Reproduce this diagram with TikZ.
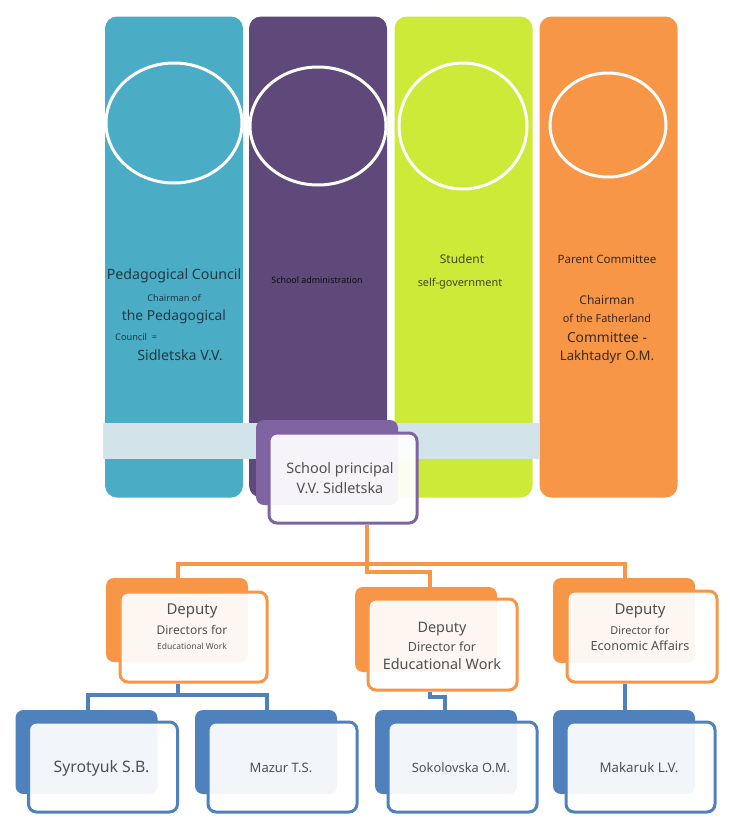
\documentclass[tikz,border=0pt]{standalone}
\usepackage{fontspec}
\setmainfont{Noto Sans}
\usetikzlibrary{shapes.geometric,backgrounds,calc}
\definecolor{colteal}{HTML}{4BACC6}
\definecolor{colpurple}{HTML}{5F497A}
\definecolor{collime}{HTML}{CEEA38}
\definecolor{colorange}{HTML}{F79646}
\definecolor{princpurple}{HTML}{8064A2}
\definecolor{bandblue}{HTML}{D2E3E9}
\definecolor{depblue}{HTML}{4F81BD}
\definecolor{txtgrey}{HTML}{505050}
\definecolor{txtteal}{HTML}{203A44}
\definecolor{txtlime}{HTML}{3F4A1E}
\definecolor{txtorange}{HTML}{3A2A20}
\newcommand{\fsz}[1]{\fontsize{#1}{1.4\dimexpr#1pt\relax}\selectfont}

\begin{document}
\begin{tikzpicture}[x=1pt, y=-1pt,
    column/.style={rectangle, rounded corners=12pt, minimum width=138pt, minimum height=481pt, inner sep=0pt},
    ring/.style={ellipse, draw=white, line width=3pt, inner sep=0pt},
    backbox/.style={rectangle, rounded corners=8pt, minimum width=142pt, minimum height=84pt, inner sep=0pt},
    frontbox/.style={rectangle, rounded corners=8pt, minimum width=148pt, minimum height=90pt, inner sep=0pt,
      fill=white, fill opacity=0.93, line width=3pt},
    lbl/.style={align=center, inner sep=0pt},
    link/.style={line width=3.4pt}]
        \useasboundingbox (0,0) rectangle (732,838);
        % columns with their rings
        \foreach \n/\x/\c in {1/174/colteal, 2/318/colpurple, 3/463.5/collime, 4/608.5/colorange} {
          \node[column, fill=\c] (col\n) at (\x,257) {};
        }
        \node[ring, minimum width=136pt, minimum height=120pt] (ring1) at (174,123) {};
        \node[ring, minimum width=136pt, minimum height=118pt] (ring2) at (318,126) {};
        \node[ring, minimum width=128pt, minimum height=126pt] (ring3) at (463,126) {};
        \node[ring, minimum width=116pt, minimum height=104pt] (ring4) at (608,125) {};
        \fill[bandblue] (103,423) rectangle (540,459);
        % column texts
        \begin{scope}[every node/.style={lbl, text=txtteal}]
          \node[font=\fsz{14.2}] (ped1) at (174,276) {Pedagogical Council};
          \node[font=\fsz{9.2}] (ped2) at (174,298) {Chairman of};
          \node[font=\fsz{13.8}] (ped3) at (174,317) {the Pedagogical};
          \node[font=\fsz{9.2}, anchor=west] (ped4) at (115,337) {Council\ \ =};
          \node[font=\fsz{14.2}] (ped5) at (180,355) {Sidletska V.V.};
        \end{scope}
        \node[lbl, font=\fsz{8.9}, text=black!85!colpurple] (adm1) at (317,280) {School administration};
        \node[lbl, font=\fsz{12}, text=txtlime] (stu1) at (462,259) {Student};
        \node[lbl, font=\fsz{10.9}, text=txtlime] (stu2) at (460,284) {self-government};
        \begin{scope}[every node/.style={lbl, text=txtorange}]
          \node[font=\fsz{11.5}] (par1) at (607,259) {Parent Committee};
          \node[font=\fsz{12}] (par2) at (607,300) {Chairman};
          \node[font=\fsz{10.9}] (par3) at (607,318) {of the Fatherland};
          \node[font=\fsz{13.8}] (par4) at (607,337) {Committee -};
          \node[font=\fsz{13.2}] (par5) at (607,357) {Lakhtadyr O.M.};
        \end{scope}
        % principal
        \node[backbox, fill=princpurple, minimum width=142pt, minimum height=85pt] (princb) at (327,462.5) {};
        \node[frontbox, draw=princpurple, minimum width=148pt, minimum height=90pt] (princ) at (343,478) {};
        \node[lbl, font=\fsz{14.4}, text=txtgrey] (princt) at (340,478) {School principal\\V.V. Sidletska};
        % deputies
        \node[backbox, fill=colorange] (dep1b) at (177,620) {};
        \node[frontbox, draw=colorange, minimum width=147pt] (dep1) at (193.5,637) {};
        \node[backbox, fill=colorange, minimum height=85pt] (dep2b) at (426,629.5) {};
        \node[frontbox, draw=colorange, minimum width=149pt, minimum height=91pt] (dep2) at (442.5,644.5) {};
        \node[backbox, fill=colorange, minimum height=85pt] (dep3b) at (624,620.5) {};
        \node[frontbox, draw=colorange, minimum width=150pt, minimum height=91pt] (dep3) at (642,636.5) {};
        \begin{scope}[every node/.style={lbl, text=txtgrey}]
          \node[font=\fsz{15}] (dep1t1) at (192,611) {Deputy};
          \node[font=\fsz{12}] (dep1t2) at (192,630) {Directors for};
          \node[font=\fsz{8.5}] (dep1t3) at (192,646) {Educational Work};
          \node[font=\fsz{14.4}] (dep2t1) at (442,629) {Deputy};
          \node[font=\fsz{12.6}] (dep2t2) at (442,647) {Director for};
          \node[font=\fsz{14.4}] (dep2t3) at (442,664) {Educational Work};
          \node[font=\fsz{15}] (dep3t1) at (640,611) {Deputy};
          \node[font=\fsz{10.9}] (dep3t2) at (640,630) {Director for};
          \node[font=\fsz{12.6}] (dep3t3) at (640,646) {Economic Affairs};
        \end{scope}
        % staff boxes
        \foreach \n/\x/\t/\s in {1/86.5/Syrotyuk S.B./15.8, 2/266/Mazur T.S./13, 3/446/Sokolovska O.M./12.8, 4/624/Makaruk L.V./13.3} {
          \node[backbox, minimum height=84pt, fill=depblue] (b\n b) at (\x,752) {};
          \node[frontbox, draw=depblue, minimum width=149pt, minimum height=90pt] (b\n) at (\x+16.5,767) {};
          \node[lbl, font=\fsz{\s}, text=txtgrey] (b\n t) at (\x+15,768) {\t};
        }
        % connectors
        \coordinate (trunk) at (367,564);
        \coordinate (jog2) at (430,572);
        \coordinate (bar1) at (178,564);
        \coordinate (bar3) at (625,564);
        \coordinate (split1) at (178,695);
        \coordinate (left1) at (88,695);
        \coordinate (right1) at (267,695);
        \coordinate (drop2) at (430,697);
        \coordinate (jog3) at (445,697);
        \coordinate (drop4) at (625,700);
        \begin{scope}[on background layer]
          \fill[white] (0,0) rectangle (732,838);
          \draw[link, colorange] (princ.south -| trunk) -- (trunk |- jog2) -- (jog2) -- (jog2 |- dep2b.north);
          \draw[link, colorange] (bar1 |- dep1b.north) -- (bar1) -- (bar3) -- (bar3 |- dep3b.north);
          \draw[link, depblue] (dep1.south -| split1) -- (split1);
          \draw[link, depblue] (left1 |- b1b.north) -- (left1) -- (right1) -- (right1 |- b2b.north);
          \draw[link, depblue] (dep2.south -| drop2) -- (drop2) -- (jog3) -- (jog3 |- b3b.north);
          \draw[link, depblue] (dep3.south -| drop4) -- (drop4 |- b4b.north);
        \end{scope}
      \end{tikzpicture}
\end{document}
